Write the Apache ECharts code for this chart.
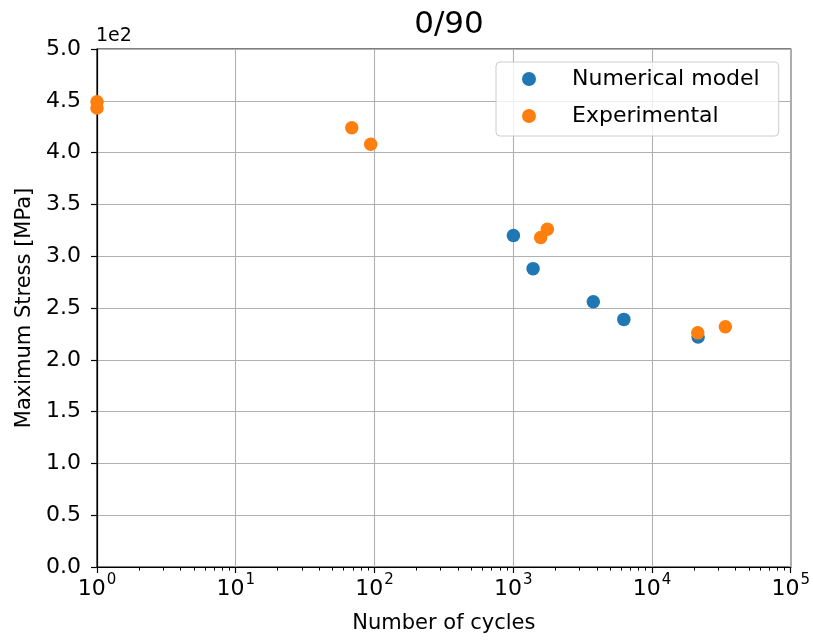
<!DOCTYPE html>
<html>
<head>
<meta charset="utf-8">
<script src="https://cdn.jsdelivr.net/npm/echarts@6/dist/echarts.min.js"></script>
<style>html,body{margin:0;padding:0;background:#fff}#c{width:813px;height:643px}</style>
</head>
<body>
<div id="c"></div>
<script>
// Data (stress in units of 1e2 MPa, as shown on the axis)
const numCycles = [1003, 1390, 3776, 6270, 21500];
const numStress = [3.20, 2.88, 2.56, 2.39, 2.22];
const expCycles = [1, 1, 68.6, 93.9, 1577, 1762, 21370, 33800];
const expStress = [4.49, 4.43, 4.24, 4.08, 3.18, 3.26, 2.26, 2.32];
const xTicks = [1, 10, 100, 1000, 10000, 100000];
const xMinorTicks = [2,3,4,5,6,7,8,9,20,30,40,50,60,70,80,90,200,300,400,500,600,700,800,900,2000,3000,4000,5000,6000,7000,8000,9000,20000,30000,40000,50000,60000,70000,80000,90000];
const yTicks = [0, 0.5, 1.0, 1.5, 2.0, 2.5, 3.0, 3.5, 4.0, 4.5, 5.0];

const font = 'DejaVu Sans';
const chart = echarts.init(document.getElementById('c'), null, {renderer: 'canvas'});
chart.setOption({
  animation: false,
  textStyle: {fontFamily: font},
  title: {text: '0/90', left: 444, textAlign: 'center', top: 4, textStyle: {fontFamily: font, fontSize: 31, fontWeight: 'normal', color: '#000'}},
  grid: {left: 97, right: 21, top: 49, bottom: 76, show: true, borderColor: '#000', borderWidth: 1.2, backgroundColor: 'transparent'},
  legend: {
    orient: 'vertical', left: 496, top: 62,
    padding: [5, 19, 8, 26], itemGap: 13,
    borderColor: '#cccccc', borderWidth: 1, borderRadius: 4, backgroundColor: 'rgba(255,255,255,0.8)',
    itemWidth: 14, itemHeight: 14,
    textStyle: {fontFamily: font, fontSize: 22, color: '#000', lineHeight: 24, padding: [0, 0, 0, 31]},
    data: [{name: 'Numerical model', icon: 'circle'}, {name: 'Experimental', icon: 'circle'}]
  },
  xAxis: [{
    type: 'log', logBase: 10, min: 1, max: 100000,
    name: 'Number of cycles', nameLocation: 'middle', nameGap: 46,
    nameTextStyle: {fontFamily: font, fontSize: 21, color: '#000'},
    axisLine: {show: true, lineStyle: {color: '#000', width: 1.2}},
    axisTick: {show: true, inside: false, length: 6, lineStyle: {color: '#000', width: 1.2}, customValues: xTicks},
    axisLabel: {color: '#000', fontFamily: font, margin: 6, customValues: xTicks,
      formatter: v => '{b|10}{s|' + Math.round(Math.log10(v)) + '}',
      rich: {
        b: {fontSize: 22, fontFamily: font, color: '#000'},
        s: {fontSize: 15, fontFamily: font, color: '#000', padding: [0, 0, 18, 1]}
      }},
    splitLine: {show: true, lineStyle: {color: '#b0b0b0', width: 1.1}},
    minorTick: {show: false}
  }, {
    type: 'log', logBase: 10, min: 1, max: 100000, position: 'bottom',
    axisLine: {show: false},
    axisTick: {show: true, length: 3.5, lineStyle: {color: '#000', width: 1}, customValues: xMinorTicks},
    axisLabel: {show: false},
    splitLine: {show: false}
  }],
  yAxis: {
    type: 'value', min: 0, max: 5, interval: 0.5,
    name: 'Maximum Stress [MPa]', nameLocation: 'middle', nameGap: 61, nameRotate: 90,
    nameTextStyle: {fontFamily: font, fontSize: 21, color: '#000'},
    axisLine: {show: true, lineStyle: {color: '#000', width: 1.2}},
    axisTick: {show: true, inside: false, length: 6, lineStyle: {color: '#000', width: 1.2}},
    axisLabel: {color: '#000', fontSize: 22, fontFamily: font, margin: 16, formatter: v => v.toFixed(1)},
    splitLine: {show: true, lineStyle: {color: '#b0b0b0', width: 1.1}}
  },
  graphic: [{type: 'text', left: 96, top: 27, style: {text: '1e2', fontFamily: font, fontSize: 19, fill: '#000'}}],
  series: [{
    name: 'Numerical model', type: 'scatter', symbol: 'circle', symbolSize: 13.5,
    itemStyle: {color: '#1f77b4', opacity: 1},
    data: numCycles.map((c, i) => [c, numStress[i]]), z: 3
  }, {
    name: 'Experimental', type: 'scatter', symbol: 'circle', symbolSize: 13.5,
    itemStyle: {color: '#ff7f0e', opacity: 1},
    data: expCycles.map((c, i) => [c, expStress[i]]), z: 4
  }]
});
</script>
</body>
</html>
